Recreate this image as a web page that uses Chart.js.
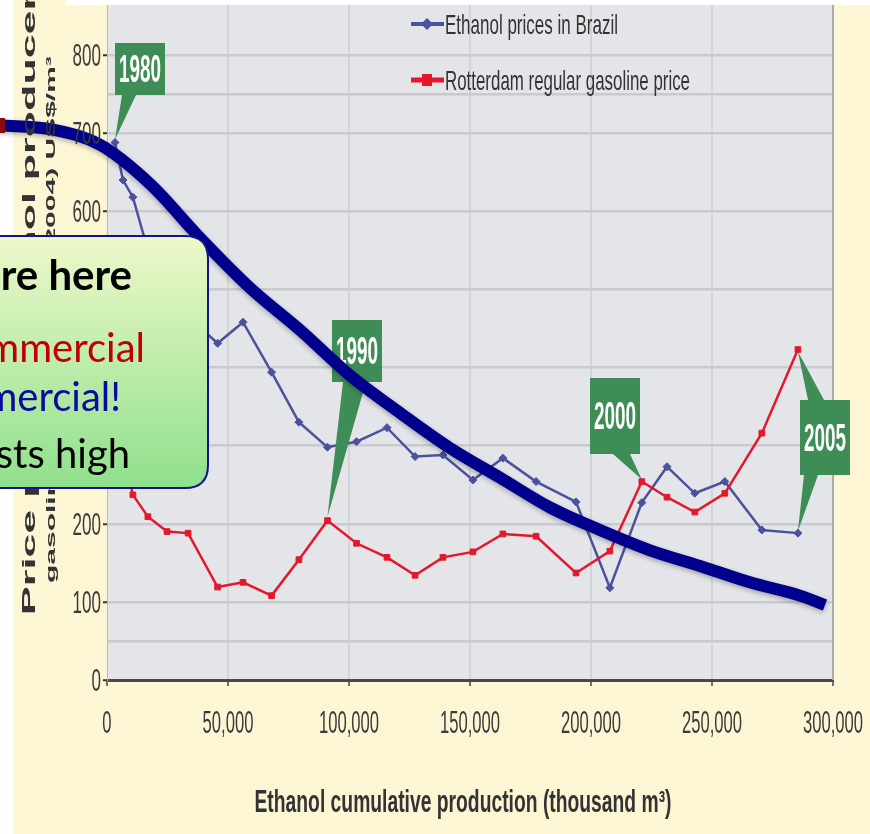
<!DOCTYPE html>
<html>
<head>
<meta charset="utf-8">
<script src="https://cdn.jsdelivr.net/npm/chart.js@4.4.1/dist/chart.umd.min.js"></script>
<style>
  html, body { margin: 0; padding: 0; background: #ffffff; }
  #wrap { width: 870px; height: 834px; }
</style>
</head>
<body>
<div id="wrap"><canvas id="chart" width="870" height="834"></canvas></div>
<script>
// Cumulative ethanol production (thousand m3), one entry per year 1980-2005
const years = [1980, 1981, 1982, 1983, 1984, 1985, 1986, 1987, 1988, 1989, 1990, 1991, 1992,
               1993, 1994, 1995, 1996, 1997, 1998, 1999, 2000, 2001, 2002, 2003, 2004, 2005];
const cumulativeProduction = [3300, 6600, 10700, 16900, 24800, 33500, 45700, 56200, 68000, 79300,
                              91100, 103100, 115700, 127300, 138800, 151200, 163600, 177300,
                              193800, 207800, 221000, 231400, 242900, 255300, 270600, 285500];
// Prices (2004) US$/m3
const ethanolBrazil = [688, 640, 618, 550, 500, 465, 431, 458, 394, 330, 298, 305, 323,
                       286, 288, 256, 284, 254, 228, 118, 227, 273, 239, 254, 192, 188];
const gasolineRotterdam = [330, 290, 237, 209, 190, 188, 119, 125, 108, 154, 204, 175, 157,
                           134, 157, 164, 187, 184, 137, 165, 254, 234, 215, 239, 316, 423];
// Hand-drawn cost trend curve laid over the chart
const trendX = [-44200, -23550, -2900, 17770, 38430, 59090, 79750, 100400, 121100, 141700,
                162400, 183000, 203700, 224400, 245000, 265700, 286300, 296700];
const trendY = [710, 705, 685, 635, 566, 502, 448, 390, 342, 297, 259, 221, 192, 166, 146, 125, 108, 96];

const yTickLabels = [0, 100, 200, 300, 400, 500, 600, 700, 800];
const yGridValues = [0, 50, 100, 200, 300, 400, 500, 600, 700, 750, 800];
const xTickValues = [0, 50000, 100000, 150000, 200000, 250000, 300000];
const seriesNames = ['Ethanol prices in Brazil', 'Rotterdam regular gasoline price'];
const calloutYears = [1980, 1990, 2000, 2005];
const xTitle = 'Ethanol cumulative production (thousand m³)';
const yTitleLines = ['Price paid to ethanol producers', 'gasoline import prices (2004) US$/m³'];
const noteLines = ['We are here', 'Not yet commercial', 'Now commercial!', 'Costs high'];

const BLUE = '#4b519d';
const RED = '#e3182d';
const GREEN = '#3f8d56';
const NAVY = '#00008c';
const AXIS_TEXT = '#3a3a3a';
const NARROW = '"Liberation Sans", Arial, sans-serif';

function squashText(ctx, text, x, y, font, sx, align, color) {
  ctx.save();
  ctx.font = font;
  ctx.fillStyle = color;
  ctx.textBaseline = 'alphabetic';
  ctx.textAlign = 'left';
  const w = ctx.measureText(text).width * sx;
  const left = align === 'center' ? x - w / 2 : (align === 'right' ? x - w : x);
  ctx.translate(left, y);
  ctx.scale(sx, 1);
  ctx.fillText(text, 0, 0);
  ctx.restore();
}

function fitText(ctx, text, x, y, font, width, align, color) {
  ctx.save();
  ctx.font = font;
  const sx = width / ctx.measureText(text).width;
  ctx.restore();
  squashText(ctx, text, x, y, font, sx, align, color);
}

function roundRect(ctx, x, y, w, h, r) {
  ctx.beginPath();
  ctx.moveTo(x + r, y);
  ctx.lineTo(x + w - r, y);
  ctx.quadraticCurveTo(x + w, y, x + w, y + r);
  ctx.lineTo(x + w, y + h - r);
  ctx.quadraticCurveTo(x + w, y + h, x + w - r, y + h);
  ctx.lineTo(x + r, y + h);
  ctx.quadraticCurveTo(x, y + h, x, y + h - r);
  ctx.lineTo(x, y + r);
  ctx.quadraticCurveTo(x, y, x + r, y);
  ctx.closePath();
}

// Box and tail layout for each year callout
const calloutLayout = {
  1980: { box: [115, 43, 50, 52], tails: [{ base: [[122, 95], [136, 95]], series: 'eth', dy: -3 }] },
  1990: { box: [332, 320, 50, 62], tails: [{ base: [[343, 382], [366, 382]], series: 'gas', dy: -4 }] },
  2000: { box: [590, 378, 50, 76], tails: [{ base: [[613, 454], [630, 454]], series: 'gas', dy: -2 }] },
  2005: { box: [800, 400, 50, 75], tails: [
    { base: [[808, 400], [824, 400]], series: 'gas', dy: 2 },
    { base: [[804, 475], [818, 475]], series: 'eth', dy: -2 }
  ] }
};

const backdrop = {
  id: 'backdrop',
  beforeDraw(chart) {
    const { ctx, chartArea: a } = chart;
    ctx.save();
    ctx.fillStyle = '#ffffff';
    ctx.fillRect(0, 0, chart.width, chart.height);
    ctx.fillStyle = '#fcf6d5';
    ctx.fillRect(13, 0, chart.width - 13, chart.height);
    ctx.fillStyle = '#ffffff';
    ctx.fillRect(65, 0, chart.width - 65, 5);
    ctx.fillStyle = '#e3e5e8';
    ctx.fillRect(a.left, a.top, a.right - a.left, a.bottom - a.top);
    ctx.restore();
  },
  beforeDatasetsDraw(chart) {
    const { ctx, chartArea: a } = chart;
    ctx.save();
    ctx.strokeStyle = '#a9abae';
    ctx.lineWidth = 2;
    ctx.beginPath();
    ctx.moveTo(a.right, a.top);
    ctx.lineTo(a.right, a.bottom);
    ctx.stroke();
    ctx.restore();
  }
};

const overlays = {
  id: 'overlays',
  beforeDatasetDraw(chart, args) {
    if (chart.data.datasets[args.index].label === 'trend') {
      const ctx = chart.ctx;
      ctx.save();
      ctx.shadowColor = 'rgba(0,0,0,0.3)';
      ctx.shadowBlur = 5;
      ctx.shadowOffsetY = 2;
    }
  },
  afterDatasetDraw(chart, args) {
    const label = chart.data.datasets[args.index].label;
    const ctx = chart.ctx;
    if (label === 'trend') { ctx.restore(); return; }
    if (label !== seriesNames[1]) return;
    // year callouts, drawn above the price lines and below the trend curve
    const xs = chart.scales.x, ys = chart.scales.y;
    calloutYears.forEach(year => {
      const lay = calloutLayout[year];
      const i = years.indexOf(year);
      const [bx, by, bw, bh] = lay.box;
      ctx.save();
      ctx.fillStyle = GREEN;
      lay.tails.forEach(t => {
        const v = t.series === 'eth' ? ethanolBrazil[i] : gasolineRotterdam[i];
        const px = xs.getPixelForValue(cumulativeProduction[i]);
        const py = ys.getPixelForValue(v) + t.dy;
        ctx.beginPath();
        ctx.moveTo(t.base[0][0], t.base[0][1]);
        ctx.lineTo(t.base[1][0], t.base[1][1]);
        ctx.lineTo(px, py);
        ctx.closePath();
        ctx.fill();
      });
      ctx.fillRect(bx, by, bw, bh);
      ctx.restore();
      fitText(ctx, String(year), bx + bw / 2, by + bh / 2 + 13, 'bold 38px ' + NARROW, 42, 'center', '#ffffff');
    });
  },
  afterDraw(chart) {
    const ctx = chart.ctx;
    const xs = chart.scales.x, ys = chart.scales.y;

    // axis tick labels
    yTickLabels.forEach(v => {
      squashText(ctx, String(v), 101, ys.getPixelForValue(v) + 11, '31px ' + NARROW, 0.55, 'right', AXIS_TEXT);
    });
    xTickValues.forEach(v => {
      squashText(ctx, v.toLocaleString('en-US'), xs.getPixelForValue(v), 733, '32px ' + NARROW, 0.52, 'center', AXIS_TEXT);
    });

    // axis titles
    fitText(ctx, xTitle, 463, 812, 'bold 31px ' + NARROW, 417, 'center', '#333333');
    ctx.save();
    ctx.translate(35, 615);
    ctx.rotate(-Math.PI / 2);
    ctx.scale(1, 0.42);
    ctx.font = 'bold 43px ' + NARROW;
    ctx.fillStyle = '#333333';
    ctx.textAlign = 'left';
    ctx.fillText(yTitleLines[0], 0, 0);
    ctx.restore();
    ctx.save();
    ctx.translate(55, 583);
    ctx.rotate(-Math.PI / 2);
    ctx.scale(1, 0.42);
    ctx.font = 'bold 30px ' + NARROW;
    ctx.fillStyle = '#333333';
    ctx.textAlign = 'left';
    ctx.fillText(yTitleLines[1], 0, 0);
    ctx.restore();

    // legend
    const legendRows = [
      { name: seriesNames[0], color: BLUE, y: 24, textW: 173, lw: 4, shape: 'diamond' },
      { name: seriesNames[1], color: RED, y: 80, textW: 245, lw: 5, shape: 'square' }
    ];
    legendRows.forEach(r => {
      ctx.save();
      ctx.strokeStyle = r.color;
      ctx.fillStyle = r.color;
      ctx.lineWidth = r.lw;
      ctx.beginPath();
      ctx.moveTo(411, r.y);
      ctx.lineTo(444, r.y);
      ctx.stroke();
      ctx.beginPath();
      if (r.shape === 'diamond') {
        ctx.moveTo(427, r.y - 6); ctx.lineTo(433, r.y); ctx.lineTo(427, r.y + 6); ctx.lineTo(421, r.y);
      } else {
        ctx.rect(422, r.y - 6, 10, 12);
      }
      ctx.closePath();
      ctx.fill();
      ctx.restore();
      fitText(ctx, r.name, 445, r.y + 10, '28px ' + NARROW, r.textW, 'left', '#333333');
    });

    // small block where the trend curve starts
    ctx.save();
    ctx.fillStyle = '#8b0a0a';
    ctx.fillRect(0, 118, 5, 15);
    ctx.restore();

    // note box
    ctx.save();
    const grad = ctx.createLinearGradient(0, 236, 0, 488);
    grad.addColorStop(0, '#eef8c9');
    grad.addColorStop(1, '#8fe08c');
    roundRect(ctx, -30, 236, 238, 252, 23);
    ctx.fillStyle = grad;
    ctx.fill();
    ctx.lineWidth = 2;
    ctx.strokeStyle = '#14148a';
    ctx.stroke();
    ctx.restore();
    const noteStyle = [
      { font: 'bold 42px Lato, sans-serif', color: '#000000', right: 132, base: 290 },
      { font: '40px Lato, sans-serif', color: '#c00000', right: 145, base: 362 },
      { font: '40px Lato, sans-serif', color: '#0a0aa0', right: 121, base: 411 },
      { font: '40px Lato, sans-serif', color: '#000000', right: 130, base: 468 }
    ];
    noteLines.forEach((t, i) => {
      const s = noteStyle[i];
      ctx.save();
      ctx.font = s.font;
      ctx.fillStyle = s.color;
      ctx.textAlign = 'right';
      ctx.fillText(t, s.right, s.base);
      ctx.restore();
    });
  }
};

new Chart(document.getElementById('chart'), {
  type: 'line',
  data: {
    datasets: [
      {
        label: 'trend',
        data: trendX.map((x, i) => ({ x, y: trendY[i] })),
        borderColor: NAVY,
        borderWidth: 12,
        pointRadius: 0,
        cubicInterpolationMode: 'monotone',
        borderCapStyle: 'butt',
        clip: false,
        order: 0
      },
      {
        label: seriesNames[1],
        data: cumulativeProduction.map((x, i) => ({ x, y: gasolineRotterdam[i] })),
        borderColor: RED,
        backgroundColor: RED,
        borderWidth: 2.5,
        pointStyle: 'rect',
        pointRadius: 4,
        pointBorderWidth: 1,
        tension: 0,
        order: 1
      },
      {
        label: seriesNames[0],
        data: cumulativeProduction.map((x, i) => ({ x, y: ethanolBrazil[i] })),
        borderColor: BLUE,
        backgroundColor: BLUE,
        borderWidth: 2.5,
        pointStyle: 'rectRot',
        pointRadius: 4,
        pointBorderWidth: 1,
        tension: 0,
        order: 2
      }
    ]
  },
  options: {
    responsive: false,
    animation: false,
    devicePixelRatio: 1,
    events: [],
    layout: { padding: { left: 0, top: 5, right: 37, bottom: 0 } },
    plugins: { legend: { display: false }, tooltip: { enabled: false } },
    scales: {
      x: {
        type: 'linear',
        bounds: 'data',
        // range fixed after data limits so the trend curve may run past the left edge
        afterDataLimits: s => { s.min = 0; s.max = 300000; },
        afterBuildTicks: s => { s.ticks = xTickValues.map(v => ({ value: v })); },
        afterFit: s => { s.height = 154; },
        ticks: { display: false },
        grid: {
          color: c => (c.tick && (c.tick.value === 0 || c.tick.value === 300000)) ? 'rgba(0,0,0,0)' : '#d2d4d7',
          lineWidth: 2,
          drawTicks: true,
          tickLength: 6,
          tickWidth: 1.5,
          tickColor: '#444444'
        },
        border: { display: true, color: '#4d4a42', width: 3 }
      },
      y: {
        type: 'linear',
        min: 0,
        max: 864,
        bounds: 'data',
        afterBuildTicks: s => { s.ticks = yGridValues.map(v => ({ value: v })); },
        afterFit: s => { s.width = 107; },
        ticks: { display: false },
        grid: {
          color: c => (c.tick && c.tick.value === 0) ? 'rgba(0,0,0,0)' : '#c8cacd',
          lineWidth: 2.5,
          drawTicks: true,
          tickLength: 4,
          tickWidth: 2,
          tickColor: c => (c.tick && yTickLabels.includes(c.tick.value)) ? '#333333' : 'rgba(0,0,0,0)'
        },
        border: { display: true, color: '#b9b9b0', width: 1 }
      }
    }
  },
  plugins: [backdrop, overlays]
});
</script>
</body>
</html>
